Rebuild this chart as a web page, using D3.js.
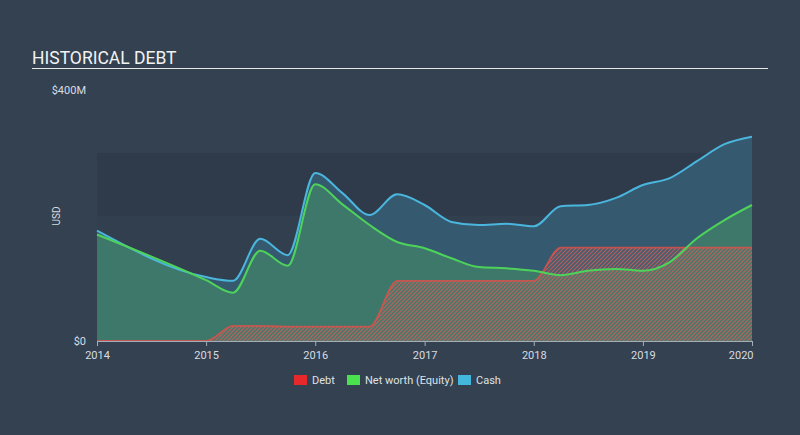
<!DOCTYPE html>
<html>
<head>
<meta charset="utf-8">
<script src="https://cdn.jsdelivr.net/npm/d3@7"></script>
<style>
  html, body { margin: 0; padding: 0; background: #344150; }
  svg { display: block; font-family: Roboto, "Noto Sans", sans-serif; }
</style>
</head>
<body>
<svg id="chart" width="800" height="435"></svg>
<script>
const dates = ["2014-01-01","2015-01-01","2015-04-01","2015-07-01","2015-10-01","2016-01-01","2016-04-01","2016-07-01","2016-10-01","2017-01-01","2017-04-01","2017-07-01","2017-10-01","2018-01-01","2018-04-01","2018-07-01","2018-10-01","2019-01-01","2019-04-01","2019-07-01","2019-10-01","2020-01-01"];
const debt   = [0, 0, 24, 24, 23, 23, 23, 23, 96, 96, 96, 96, 96, 96, 149, 149, 149, 149, 149, 149, 149, 149];
const equity = [170, 97, 77, 144, 120, 250, 218, 185, 158, 148, 132, 118, 116, 112, 105, 112, 115, 112, 126, 164, 193, 217];
const cash   = [176, 102, 96, 163, 137, 268, 236, 201, 234, 217, 190, 185, 187, 183, 215, 217, 228, 249, 260, 287, 314, 326];
const yTicks = [0, 400];
const yTickLabels = ["$0", "$400M"];
const xTickYears = [2014, 2015, 2016, 2017, 2018, 2019, 2020];
const legendItems = ["Debt", "Net worth (Equity)", "Cash"];

(function () {
const parse = d3.timeParse("%Y-%m-%d");
const rows = dates.map((d, i) => ({ date: parse(d), debt: debt[i], equity: equity[i], cash: cash[i] }));

const svg = d3.select("#chart");
const W = 800, H = 435;
const pLeft = 97, pRight = 752, pTop = 90.3, pBottom = 341;

const x = d3.scaleTime().domain([new Date(2014, 0, 1), new Date(2020, 0, 1)]).range([pLeft, pRight]);
const y = d3.scaleLinear().domain([0, 400]).range([pBottom, pTop]);

svg.append("rect").attr("width", W).attr("height", H).attr("fill", "#344150");

// title
svg.append("text").attr("x", 32).attr("y", 64).attr("fill", "#f2f2f2")
  .attr("font-size", 17.5).text("HISTORICAL DEBT");
svg.append("line").attr("x1", 32).attr("x2", 768).attr("y1", 68.5).attr("y2", 68.5)
  .attr("stroke", "#e6e6e6").attr("stroke-width", 1);

// plot background bands
svg.append("rect").attr("x", pLeft).attr("y", y(300)).attr("width", pRight - pLeft).attr("height", y(0) - y(300)).attr("fill", "#2f3b4b");
svg.append("rect").attr("x", pLeft).attr("y", y(200)).attr("width", pRight - pLeft).attr("height", y(100) - y(200)).attr("fill", "#323f4f");

// hatch pattern (unrotated tile with diagonal strokes)
const defs = svg.append("defs");
const pat = defs.append("pattern").attr("id", "hatch").attr("patternUnits", "userSpaceOnUse")
  .attr("width", 4).attr("height", 4);
pat.append("rect").attr("width", 4).attr("height", 4).attr("fill", "rgba(150,120,120,0.15)");
pat.append("path").attr("d", "M-1,1 l2,-2 M0,4 l4,-4 M3,5 l2,-2")
  .attr("stroke", "#e05a52").attr("stroke-width", 1.1).attr("stroke-opacity", 0.75).attr("fill", "none");

const curve = d3.curveMonotoneX;
const area = key => d3.area().x(d => x(d.date)).y0(y(0)).y1(d => y(d[key])).curve(curve);
const line = key => d3.line().x(d => x(d.date)).y(d => y(d[key])).curve(curve);

svg.append("path").datum(rows).attr("d", area("cash")).attr("fill", "#355a6f");
svg.append("path").datum(rows).attr("d", area("equity")).attr("fill", "#3d786b");
svg.append("path").datum(rows).attr("d", area("debt")).attr("fill", "url(#hatch)");

svg.append("path").datum(rows).attr("d", line("cash")).attr("fill", "none")
  .attr("stroke", "#4ab6dd").attr("stroke-width", 2);
svg.append("path").datum(rows).attr("d", line("debt")).attr("fill", "none")
  .attr("stroke", "#e0504a").attr("stroke-width", 1.8).attr("stroke-opacity", 0.8);
svg.append("path").datum(rows).attr("d", line("equity")).attr("fill", "none")
  .attr("stroke", "#4ed35a").attr("stroke-width", 2);

// x axis
const xAxis = d3.axisBottom(x)
  .tickValues(xTickYears.map(yr => new Date(yr, 0, 1)))
  .tickFormat(d3.timeFormat("%Y"))
  .tickSize(5).tickSizeOuter(0);
const gx = svg.append("g").attr("transform", `translate(0,${pBottom})`).call(xAxis);
gx.select(".domain").attr("stroke", "#a3adb8");
gx.selectAll(".tick line").attr("stroke", "#a3adb8");
gx.selectAll(".tick text").attr("fill", "#d8dce0").attr("font-size", 11).attr("dy", "0.95em")
  .attr("font-family", "Roboto, sans-serif");
gx.selectAll(".tick text").filter(d => d.getFullYear() === 2020).attr("text-anchor", "end").attr("dx", "1px");

// y labels
svg.selectAll(".ylab").data(yTicks).join("text").attr("class", "ylab")
  .attr("x", 86).attr("y", d => y(d)).attr("dy", "0.35em")
  .attr("text-anchor", "end").attr("fill", "#d8dce0").attr("font-size", 11)
  .text((d, i) => yTickLabels[i]);

svg.append("text").attr("transform", `translate(60,216) rotate(-90)`)
  .attr("text-anchor", "middle").attr("fill", "#d8dce0").attr("font-size", 10).text("USD");

// legend
const legColors = ["#e8292c", "#4be04d", "#44b8dc"];
const legX = [294, 347, 458];
const lg = svg.append("g");
legendItems.forEach((t, i) => {
  lg.append("rect").attr("x", legX[i]).attr("y", 375).attr("width", 13).attr("height", 10).attr("fill", legColors[i]);
  lg.append("text").attr("x", legX[i] + 18).attr("y", 380).attr("dy", "0.35em")
    .attr("fill", "#dfe3e6").attr("font-size", 11).text(t);
});
})();
</script>
</body>
</html>
